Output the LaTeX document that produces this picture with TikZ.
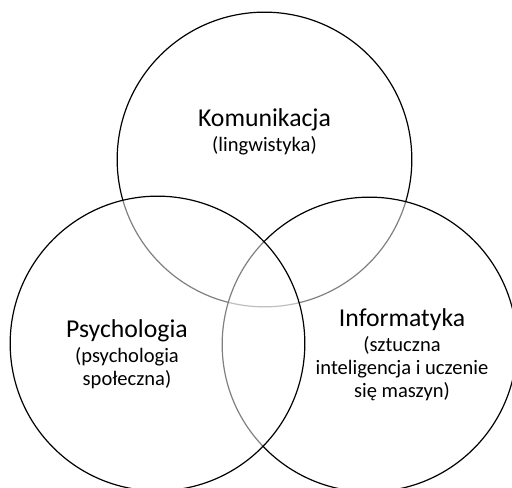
\documentclass[tikz,border=0pt]{standalone}
\usepackage{fontspec}
\setmainfont{Carlito}
\usetikzlibrary{positioning}
\tikzset{
        % Circles of the diagram
        area_circle/.style={circle, draw=black, line width=0.9pt, fill=white, fill opacity=0.5, text opacity=1, inner sep=0pt, minimum size=221pt},
        % Main labels
        area_title/.style={align=center, inner sep=0pt, anchor=base, font=\fontsize{19.3}{23}\selectfont},
        % Sub labels
        area_sub/.style={align=center, inner sep=0pt, font=\fontsize{15.4}{17.3}\selectfont}
}
\begin{document}
\begin{tikzpicture}[x=0.75pt, y=0.75pt]
            \useasboundingbox (0,0) rectangle (512,488);
            % circles, back to front
            \node[area_circle] (komunikacja) at (264.5,328.5) {};
            \node[area_circle] (informatyka) at (369.5,143.5) {};
            \node[area_circle] (psychologia) at (157.5,144.5) {};
            % labels
            \node[area_title] (kom_title) at (264.5,361) {Komunikacja};
            \node[area_sub, below=7pt of kom_title.base] (kom_sub) {(lingwistyka)};
            \node[area_title] (psy_title) at (127,150) {Psychologia};
            \node[area_sub, below=7pt of psy_title.base] (psy_sub) {(psychologia\\społeczna)};
            \node[area_title] (inf_title) at (402,161) {Informatyka};
            \node[area_sub, below=7pt of inf_title.base] (inf_sub) {(sztuczna\\inteligencja i uczenie\\się maszyn)};
\end{tikzpicture}
\end{document}
